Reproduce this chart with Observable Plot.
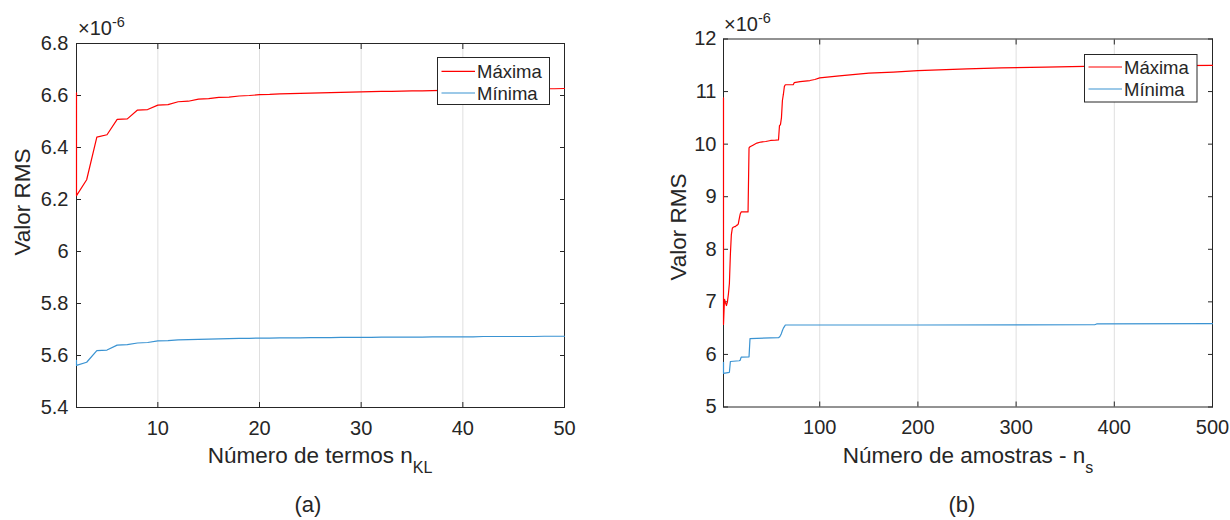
<!DOCTYPE html>
<html>
<head>
<meta charset="utf-8">
<script src="https://cdn.jsdelivr.net/npm/d3@7"></script>
<script src="https://cdn.jsdelivr.net/npm/@observablehq/plot@0.6"></script>
<style>
  html, body { margin: 0; padding: 0; background: #fff; }
  #fig { position: relative; width: 1230px; height: 520px; overflow: hidden;
         font-family: "Liberation Sans", Arial, Helvetica, sans-serif; color: #262626; }
  #fig > svg { position: absolute; top: 0; }
</style>
</head>
<body>
<div id="fig"></div>
<script>
// RMS values are in units of 1e-6 (shown by the ×10^-6 multiplier on each axis).

// (a) RMS versus number of KL terms
const nKL = [2, 2, 3, 4, 5, 6, 7, 8, 9, 10, 11, 12, 13, 14, 15, 16, 17, 18, 19, 20,
  21, 22, 23, 24, 25, 26, 27, 28, 29, 30, 31, 32, 33, 34, 35, 36, 37, 38, 39, 40,
  41, 42, 43, 44, 45, 46, 47, 48, 49, 50];
const maxKL = [6.610, 6.215, 6.276, 6.440, 6.449, 6.508, 6.510, 6.544, 6.546, 6.563,
  6.565, 6.576, 6.578, 6.586, 6.588, 6.593, 6.594, 6.598, 6.600, 6.603,
  6.604, 6.606, 6.607, 6.608, 6.609, 6.610, 6.611, 6.612, 6.613, 6.614,
  6.615, 6.616, 6.616, 6.617, 6.618, 6.618, 6.619, 6.620, 6.620, 6.621,
  6.622, 6.622, 6.623, 6.623, 6.624, 6.625, 6.625, 6.626, 6.626, 6.627];
const minKL = [5.581, 5.562, 5.574, 5.619, 5.621, 5.640, 5.642, 5.648, 5.650, 5.656,
  5.657, 5.660, 5.661, 5.662, 5.663, 5.664, 5.665, 5.666, 5.666, 5.667,
  5.667, 5.668, 5.668, 5.668, 5.669, 5.669, 5.669, 5.670, 5.670, 5.670,
  5.670, 5.671, 5.671, 5.671, 5.671, 5.671, 5.672, 5.672, 5.672, 5.672,
  5.672, 5.673, 5.673, 5.673, 5.673, 5.673, 5.673, 5.674, 5.674, 5.674];

// (b) RMS versus number of samples
const nSMax = [2, 2, 3, 4, 5, 6, 7, 8, 9, 10, 11, 12, 13, 14, 15, 16, 17, 18, 19, 20,
  27, 28, 29, 32, 36, 40, 45, 50, 55, 58, 59, 60, 61, 62, 63, 64, 65, 73, 74, 80,
  90, 95, 100, 120, 150, 175, 200, 250, 285, 330, 370, 420, 500];
const maxS = [10.88, 6.57, 7.05, 6.98, 6.93, 7.00, 7.15, 7.35, 7.90, 8.28, 8.40, 8.42,
  8.43, 8.43, 8.45, 8.46, 8.48, 8.58, 8.67, 8.71,
  8.71, 9.93, 9.95, 9.98, 10.02, 10.04, 10.05, 10.07, 10.075, 10.08, 10.35, 10.37,
  10.50, 10.83, 10.95, 11.10, 11.13, 11.13, 11.17, 11.19,
  11.21, 11.23, 11.26, 11.30, 11.35, 11.37, 11.40, 11.43, 11.45, 11.465, 11.48, 11.49, 11.50];
const nSMin = [2, 2, 8, 9, 18, 19, 20, 28, 29, 58, 59, 60, 61, 62, 63, 64, 65, 200, 380, 382, 500];
const minS = [5.85, 5.64, 5.66, 5.865, 5.88, 5.89, 5.95, 5.955, 6.30, 6.32, 6.33, 6.36,
  6.40, 6.455, 6.50, 6.53, 6.56, 6.56, 6.565, 6.58, 6.585];

// axis ticks
const xTicksKL = [10, 20, 30, 40, 50];
const yTicksKL = [5.4, 5.6, 5.8, 6, 6.2, 6.4, 6.6, 6.8];
const xTicksS = [100, 200, 300, 400, 500];
const yTicksS = [5, 6, 7, 8, 9, 10, 11, 12];

const seriesNames = ["Máxima", "Mínima"];
const seriesColors = ["#ff0000", "#3a93d2"];

const ink = "#262626";
const font = "'Liberation Sans', Arial, Helvetica, sans-serif";
const fmtY = d => String(+d.toFixed(1));

function panel({xMax, vMax, xMin, vMin, xDomain, yDomain, xTicks, yTicks, m, yPad}) {
  const rowsMax = xMax.map((n, i) => ({n, v: vMax[i]}));
  const rowsMin = xMin.map((n, i) => ({n, v: vMin[i]}));
  return Plot.plot({
    width: 615,
    height: 490,
    marginLeft: m.left, marginRight: m.right, marginTop: m.top, marginBottom: m.bottom,
    style: {fontFamily: font, fontSize: "20px", color: ink, background: "transparent", overflow: "visible"},
    x: {domain: xDomain},
    y: {domain: yDomain},
    marks: [
      Plot.gridX(xTicks, {stroke: ink, strokeOpacity: 0.15}),
      Plot.frame({stroke: ink, strokeWidth: 1}),
      // inward ticks on all four sides
      Plot.axisX(xTicks, {anchor: "bottom", tickSize: -5, fill: "none", label: null}),
      Plot.axisX(xTicks, {anchor: "top", tickSize: -5, fill: "none", label: null}),
      Plot.axisY(yTicks, {anchor: "left", tickSize: -5, fill: "none", label: null}),
      Plot.axisY(yTicks, {anchor: "right", tickSize: -5, fill: "none", label: null}),
      // tick labels
      Plot.axisX(xTicks, {anchor: "bottom", tickSize: 0, tickPadding: 13, label: null}),
      Plot.axisY(yTicks, {anchor: "left", tickSize: 0, tickPadding: yPad, label: null, tickFormat: fmtY}),
      // series
      Plot.line(rowsMin, {x: "n", y: "v", stroke: seriesColors[1], strokeWidth: 1.2}),
      Plot.line(rowsMax, {x: "n", y: "v", stroke: seriesColors[0], strokeWidth: 1.2})
    ]
  });
}

const fig = document.getElementById("fig");

const left = panel({
  xMax: nKL, vMax: maxKL, xMin: nKL, vMin: minKL,
  xDomain: [2, 50], yDomain: [5.4, 6.8],
  xTicks: xTicksKL, yTicks: yTicksKL,
  m: {left: 76, right: 51, top: 43, bottom: 83}, yPad: 8
});
left.style.left = "0px";
fig.appendChild(left);

const right = panel({
  xMax: nSMax, vMax: maxS, xMin: nSMin, vMin: minS,
  xDomain: [2, 500], yDomain: [5, 12],
  xTicks: xTicksS, yTicks: yTicksS,
  m: {left: 108, right: 18, top: 38.5, bottom: 83.5}, yPad: 7
});
right.style.left = "615px";
fig.appendChild(right);

// annotations: multipliers, axis titles, legends, captions
const ov = d3.create("svg")
  .attr("width", 1230).attr("height", 520)
  .style("left", "0px")
  .attr("font-family", font)
  .attr("fill", ink);

function multiplier(x, y) {
  const t = ov.append("text").attr("x", x).attr("y", y).attr("font-size", 20);
  t.append("tspan").text("×10");
  t.append("tspan").attr("dy", -8).attr("font-size", 14.5).text("-6");
}
function yTitle(x, y, s) {
  ov.append("text").attr("transform", `translate(${x},${y}) rotate(-90)`)
    .attr("text-anchor", "middle").attr("font-size", 22.5).text(s);
}
function xTitle(x, y, main, sub) {
  const t = ov.append("text").attr("x", x).attr("y", y)
    .attr("text-anchor", "middle").attr("font-size", 22.5);
  t.append("tspan").text(main);
  t.append("tspan").attr("dy", 10).attr("font-size", 16).text(sub);
}
function legend(x, y, w, h, baselines) {
  ov.append("rect").attr("x", x + 0.5).attr("y", y + 0.5).attr("width", w).attr("height", h)
    .attr("fill", "#fff").attr("stroke", ink).attr("stroke-width", 1);
  seriesNames.forEach((name, i) => {
    ov.append("line").attr("x1", x + 4.5).attr("x2", x + 38).attr("y1", baselines[i] - 7).attr("y2", baselines[i] - 7)
      .attr("stroke", seriesColors[i]).attr("stroke-width", 1.2);
    ov.append("text").attr("x", x + 40).attr("y", baselines[i]).attr("font-size", 18.5).text(name);
  });
}
function caption(x, y, s) {
  ov.append("text").attr("x", x).attr("y", y).attr("text-anchor", "middle").attr("font-size", 22).text(s);
}

multiplier(78, 35);
multiplier(724, 31);
yTitle(30, 202, "Valor RMS");
yTitle(686, 227, "Valor RMS");
xTitle(320, 463, "Número de termos n", "KL");
xTitle(968, 463, "Número de amostras - n", "s");
legend(437, 57, 112, 47, [78.3, 100]);
legend(1084, 54, 112.5, 47.5, [74, 96]);
caption(308, 512, "(a)");
caption(962, 512, "(b)");

fig.appendChild(ov.node());
</script>
</body>
</html>
